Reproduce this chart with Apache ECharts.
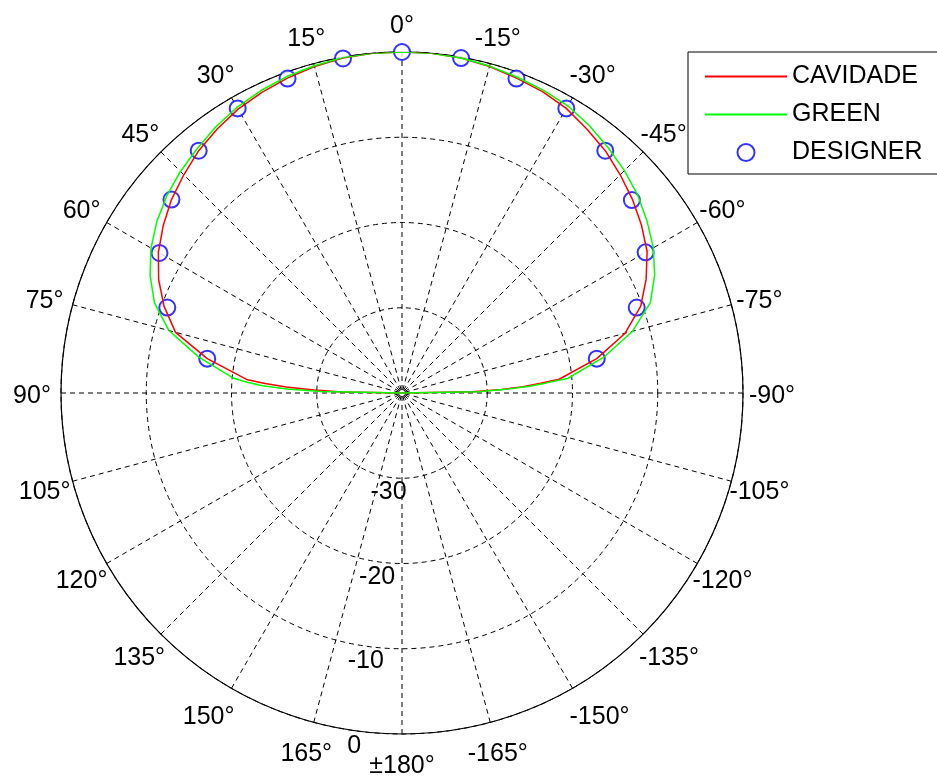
<!DOCTYPE html>
<html>
<head>
<meta charset="utf-8">
<script src="https://cdn.jsdelivr.net/npm/echarts@6/dist/echarts.min.js"></script>
<style>
  html, body { margin: 0; padding: 0; background: #fff; }
  #chart { width: 937px; height: 776px; }
</style>
</head>
<body>
<div id="chart"></div>
<script>
// angle in degrees: 0 = top, positive to the left (counterclockwise)
var curveAngles = [-90, -89, -88, -87, -86, -85, -80, -75, -70, -65, -60, -55, -50, -45, -40, -35, -30, -25, -20, -15, -10, -5,
                   0, 5, 10, 15, 20, 25, 30, 35, 40, 45, 50, 55, 60, 65, 70, 75, 80, 85, 86, 87, 88, 89, 90];
var cavidade = [-40, -31.7, -28.3, -25.8, -23.7, -21.5, -16.8, -12.9, -10.2, -8.4, -6.8, -5.7, -4.7, -3.8, -2.9, -2.2, -1.45, -1.0, -0.7, -0.35, -0.1, 0,
                0, 0, -0.1, -0.35, -0.7, -1.1, -1.55, -2.2, -2.9, -3.8, -4.7, -5.8, -7.0, -8.5, -10.3, -12.5, -16.8, -21.7, -23.9, -26.4, -29.7, -33.0, -40];
var green = [-40, -31.0, -27.8, -25.0, -23.0, -20.5, -16.0, -12.0, -9.0, -7.3, -5.95, -4.9, -3.9, -3.1, -2.4, -1.7, -1.1, -0.8, -0.55, -0.3, -0.1, 0,
             0, 0, -0.05, -0.25, -0.5, -0.85, -1.3, -1.9, -2.6, -3.25, -4.0, -4.9, -6.0, -7.4, -9.1, -11.7, -15.8, -20.2, -21.8, -23.6, -26.5, -30.5, -40];
var designerAngles = [-80, -70, -60, -50, -40, -30, -20, -10, 0, 10, 20, 30, 40, 50, 60, 70, 80];
var designer = [-16.8, -10.7, -7.0, -4.8, -2.9, -1.45, -0.75, -0.1, 0, -0.15, -0.75, -1.45, -2.9, -4.7, -7.15, -10.7, -16.8];
var seriesNames = ['CAVIDADE', 'GREEN', 'DESIGNER'];
var rMin = -40, rMax = 0, rStep = 10;
var aStep = 15;

var FONT = '"Liberation Sans", Arial, sans-serif';
var FS = 25;

function pairs(rs, angs) {
    return rs.map(function (r, i) { return [r, angs[i]]; });
}

function angleText(v) {
    if (Math.abs(v) === 180) return '±180°';
    return v + '°';
}

// push each angle label so its centre sits on a circle just outside the plot
var measure = document.createElement('canvas').getContext('2d');
measure.font = FS + 'px ' + FONT;
var R = 341, MARGIN = -6, GAP = 35, DROP = 3.5;
var rich = {};
for (var a = -180; a <= 180; a += aStep) {
    var rad = a * Math.PI / 180;
    var ux = -Math.sin(rad), uy = -Math.cos(rad);
    var w = measure.measureText(angleText(a)).width, h = FS;
    var k = (R + MARGIN) / R;
    var pl = 0, pr = 0, pt = 0, pb = 0, lh = FS;
    if (Math.abs(ux) * k < 0.3) {
        pl = Math.max(0, 2 * GAP * ux); pr = Math.max(0, -2 * GAP * ux);
    } else if (ux > 0) {
        pl = Math.max(0, GAP * ux - w / 2);
    } else {
        pr = Math.max(0, -GAP * ux - w / 2);
    }
    if (Math.abs(uy) * k < 0.3) {
        var shift = 2 * (GAP * uy + DROP);
        pt = Math.max(0, shift); pb = Math.max(0, -shift);
    } else {
        // top / bottom aligned: grow the line box instead of padding
        var off = GAP * Math.abs(uy) - h / 2 + (uy > 0 ? DROP : -DROP);
        lh = FS + 2 * Math.max(0, off);
    }
    rich['k' + (a + 180)] = {
        fontSize: FS, fontFamily: FONT, color: '#000', lineHeight: lh,
        padding: [pt, pr, pb, pl]
    };
}

var dash = { color: '#000', width: 1, type: [5, 4] };
// line-only legend icon (thin bar, box kept at full item height)
var lineIcon = 'path://M0,0L0.01,0L0.01,0.01Z M0,7.6L82,7.6L82,9.4L0,9.4Z M0,17L0.01,17L0.01,16.99Z';

var myChart = echarts.init(document.getElementById('chart'));
myChart.setOption({
    backgroundColor: '#fff',
    animation: false,
    polar: [
        { center: [402, 393], radius: R },
        { center: [402, 393], radius: [15, 356] }
    ],
    angleAxis: [{
        polarIndex: 0,
        type: 'value',
        min: -180, max: 180, interval: aStep,
        startAngle: 270,
        clockwise: false,
        axisLine: { lineStyle: { color: '#000', width: 1.2 } },
        axisTick: { show: false },
        splitLine: { show: true, lineStyle: dash },
        axisLabel: {
            margin: MARGIN,
            formatter: function (v) { return '{k' + (v + 180) + '|' + angleText(v) + '}'; },
            rich: rich
        }
    }, {
        polarIndex: 1,
        type: 'value',
        min: 0, max: 360,
        startAngle: 262.3,
        show: false
    }],
    radiusAxis: [{
        polarIndex: 0,
        type: 'value',
        min: rMin, max: rMax, interval: rStep,
        axisLine: { show: false },
        axisTick: { show: false },
        axisLabel: { show: false },
        splitLine: { show: true, lineStyle: dash }
    }, {
        polarIndex: 1,
        type: 'value',
        min: rMin, max: rMax, interval: rStep,
        axisLine: { show: false },
        axisTick: { show: false },
        splitLine: { show: false },
        axisLabel: {
            margin: 0,
            align: 'center',
            verticalAlign: 'middle',
            fontSize: FS, fontFamily: FONT, color: '#000',
            formatter: function (v) { return v === rMin ? '' : String(v); }
        }
    }],
    legend: {
        data: [
            { name: seriesNames[0], icon: lineIcon },
            { name: seriesNames[1], icon: lineIcon },
            { name: seriesNames[2] }
        ],
        orient: 'vertical',
        left: 688, top: 52,
        padding: [12, 20, 9, 17],
        itemWidth: 82, itemHeight: 17, itemGap: 13,
        backgroundColor: '#fff',
        borderColor: '#000', borderWidth: 1, borderRadius: 0,
        textStyle: { fontSize: FS, fontFamily: FONT, color: '#000' }
    },
    series: [{
        name: seriesNames[0],
        type: 'line',
        coordinateSystem: 'polar', polarIndex: 0,
        symbol: 'none',
        color: '#ff0000',
        lineStyle: { color: '#ff0000', width: 1.5 },
        data: pairs(cavidade, curveAngles)
    }, {
        name: seriesNames[1],
        type: 'line',
        coordinateSystem: 'polar', polarIndex: 0,
        symbol: 'none',
        color: '#00ff00',
        lineStyle: { color: '#00ff00', width: 1.5 },
        data: pairs(green, curveAngles)
    }, {
        name: seriesNames[2],
        type: 'scatter',
        coordinateSystem: 'polar', polarIndex: 0,
        symbol: 'emptyCircle',
        symbolSize: 16,
        itemStyle: { color: '#0000ff', borderColor: '#0000ff', borderWidth: 1.5 },
        data: pairs(designer, designerAngles)
    }]
});
</script>
</body>
</html>
